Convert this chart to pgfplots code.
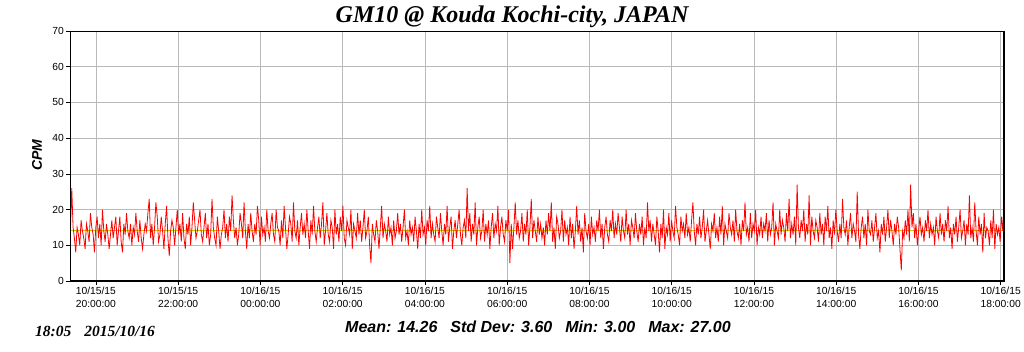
\documentclass[border=0pt]{standalone}
\usepackage{fontspec}
\setmainfont{Liberation Serif}
\setsansfont{Liberation Sans}
\usepackage{pgfplots}
\usepackage{pgfplotstable}
\pgfplotsset{compat=1.18}
\pgfplotstableread[row sep=\\]{
v\\
14\\26\\15\\12\\8\\15\\13\\10\\17\\14\\12\\9\\16\\14\\11\\19\\15\\13\\8\\15\\
18\\12\\16\\10\\20\\14\\11\\16\\13\\9\\13\\17\\12\\15\\18\\10\\14\\18\\11\\8\\
16\\13\\19\\14\\12\\16\\10\\15\\13\\19\\14\\11\\17\\12\\9\\13\\16\\14\\19\\23\\
12\\16\\10\\15\\22\\18\\11\\13\\18\\14\\9\\16\\21\\12\\7\\14\\17\\15\\10\\15\\
20\\13\\16\\11\\19\\12\\9\\16\\13\\18\\10\\15\\22\\17\\12\\14\\17\\20\\13\\11\\
15\\19\\12\\16\\10\\13\\23\\15\\12\\10\\18\\14\\9\\13\\15\\20\\12\\16\\11\\18\\
14\\24\\17\\12\\15\\10\\13\\19\\16\\12\\22\\14\\9\\16\\12\\19\\14\\11\\16\\13\\
21\\17\\10\\18\\13\\15\\11\\20\\14\\12\\16\\19\\13\\11\\20\\15\\14\\10\\17\\12\\
21\\15\\9\\13\\18\\16\\11\\22\\14\\12\\17\\10\\15\\19\\13\\16\\12\\20\\14\\9\\
17\\13\\21\\14\\11\\15\\18\\12\\16\\22\\10\\14\\19\\13\\11\\17\\15\\9\\20\\13\\
16\\11\\18\\14\\21\\12\\10\\17\\15\\13\\20\\9\\16\\14\\12\\19\\13\\17\\11\\15\\
20\\12\\14\\18\\10\\5\\16\\13\\11\\17\\14\\9\\15\\21\\12\\16\\14\\11\\18\\13\\
15\\10\\17\\12\\14\\19\\13\\16\\11\\15\\20\\12\\14\\10\\17\\13\\15\\11\\18\\14\\
9\\16\\12\\20\\13\\15\\10\\17\\14\\21\\12\\16\\13\\11\\18\\15\\12\\19\\14\\10\\
16\\13\\21\\11\\15\\18\\9\\14\\17\\12\\16\\20\\13\\10\\15\\17\\12\\26\\14\\19\\
11\\16\\13\\22\\10\\15\\18\\12\\14\\20\\11\\16\\13\\17\\9\\15\\19\\12\\16\\14\\
21\\10\\15\\18\\13\\11\\17\\14\\20\\5\\16\\9\\15\\22\\13\\17\\12\\14\\19\\11\\
16\\13\\20\\10\\15\\23\\12\\17\\14\\11\\18\\13\\16\\12\\15\\10\\17\\13\\19\\14\\
22\\11\\15\\9\\18\\16\\12\\14\\20\\11\\17\\13\\15\\10\\18\\12\\16\\9\\14\\21\\
13\\17\\11\\15\\8\\19\\14\\12\\16\\10\\18\\13\\15\\11\\17\\14\\20\\12\\16\\9\\
15\\18\\13\\11\\17\\14\\20\\12\\16\\13\\19\\15\\11\\18\\14\\12\\20\\13\\16\\10\\
17\\15\\12\\19\\14\\11\\16\\13\\18\\10\\15\\12\\22\\14\\17\\11\\16\\13\\10\\18\\
14\\8\\16\\12\\20\\9\\15\\13\\19\\11\\17\\14\\12\\21\\15\\13\\10\\18\\14\\16\\
12\\19\\13\\15\\11\\17\\22\\14\\10\\16\\13\\18\\12\\15\\20\\11\\14\\17\\13\\9\\
16\\14\\19\\12\\15\\11\\18\\13\\21\\10\\16\\14\\12\\19\\15\\13\\17\\11\\20\\14\\
12\\16\\10\\17\\14\\22\\13\\15\\11\\19\\12\\16\\14\\20\\10\\15\\13\\18\\12\\16\\
14\\19\\11\\17\\13\\15\\22\\10\\16\\14\\12\\20\\13\\17\\15\\11\\19\\14\\23\\12\\
16\\13\\18\\10\\27\\15\\12\\17\\14\\20\\11\\16\\13\\24\\10\\18\\14\\12\\17\\15\\
11\\19\\13\\16\\10\\18\\14\\21\\12\\15\\9\\17\\13\\20\\14\\11\\16\\12\\23\\15\\
13\\17\\10\\15\\19\\12\\16\\14\\11\\25\\13\\9\\15\\18\\12\\16\\10\\20\\14\\13\\
17\\11\\15\\19\\12\\14\\8\\16\\13\\18\\11\\15\\20\\12\\17\\14\\10\\16\\13\\18\\
15\\9\\3\\14\\12\\17\\13\\20\\11\\27\\15\\19\\12\\16\\10\\14\\18\\13\\15\\11\\
17\\14\\20\\12\\16\\13\\15\\10\\18\\14\\12\\19\\13\\16\\11\\17\\14\\21\\12\\15\\
9\\16\\13\\18\\11\\15\\20\\12\\14\\17\\10\\16\\13\\24\\12\\15\\11\\22\\14\\10\\
18\\13\\16\\8\\19\\12\\15\\14\\10\\17\\12\\20\\9\\16\\13\\15\\11\\18\\14\\23\\
}\cpm
\begin{document}
\begin{tikzpicture}
\path[use as bounding box] (0,0) rectangle (1024pt,351pt);
\begin{axis}[
  at={(70pt,70pt)}, anchor=south west,
  scale only axis, width=934pt, height=250pt,
  xmin=19.37, xmax=42.08, ymin=0, ymax=70,
  xtick={20,22,24,26,28,30,32,34,36,38,40,42},
  xticklabels={{10/15/15\\20:00:00},{10/15/15\\22:00:00},{10/16/15\\00:00:00},{10/16/15\\02:00:00},{10/16/15\\04:00:00},{10/16/15\\06:00:00},{10/16/15\\08:00:00},{10/16/15\\10:00:00},{10/16/15\\12:00:00},{10/16/15\\14:00:00},{10/16/15\\16:00:00},{10/16/15\\18:00:00}},
  ytick={0,10,...,70},
  xticklabel style={font=\sffamily\fontsize{10.3}{12.5}\selectfont, align=center, inner sep=2pt},
  yticklabel style={font=\sffamily\fontsize{10.3}{12}\selectfont, inner sep=2pt},
  /pgf/number format/assume math mode=true,
  tick align=outside, tick style={black, line width=0.6pt}, major tick length=4pt,
  xtick pos=bottom, ytick pos=left,
  grid=major, major grid style={gray!55, line width=0.6pt},
  axis line style={black, line width=1pt},
  clip=true,
]
\addplot[yellow!60!olive, line width=0.8pt] coordinates {(19.37,14.26) (42.08,14.26)};
\addplot[red, line width=0.8pt, mark=none] table[x expr={19.38+\coordindex*0.03248}, y=v] {\cpm};
\draw[black, line width=2.6pt] (rel axis cs:0,0) -- (rel axis cs:0,1);
\draw[black, line width=2.6pt] (rel axis cs:0,0) -- (rel axis cs:1,0);
\draw[black, line width=2pt] (rel axis cs:1,0) -- (rel axis cs:1,1);
\end{axis}
\node[font=\fontsize{24}{28}\selectfont\bfseries\itshape] at (512pt,334pt) {GM10 @ Kouda Kochi-city, JAPAN};
\node[font=\sffamily\fontsize{14}{16}\selectfont\bfseries\itshape, rotate=90] at (37pt,196pt) {CPM};
\node[font=\sffamily\fontsize{16}{18}\selectfont\bfseries\itshape] at (538pt,24pt) {Mean: 14.26\hspace{13pt}Std Dev: 3.60\hspace{13pt}Min: 3.00\hspace{13pt}Max: 27.00};
\node[font=\fontsize{15.5}{18}\selectfont\bfseries\itshape] at (95pt,20pt) {18:05\hspace{13pt}2015/10/16};
\end{tikzpicture}
\end{document}
